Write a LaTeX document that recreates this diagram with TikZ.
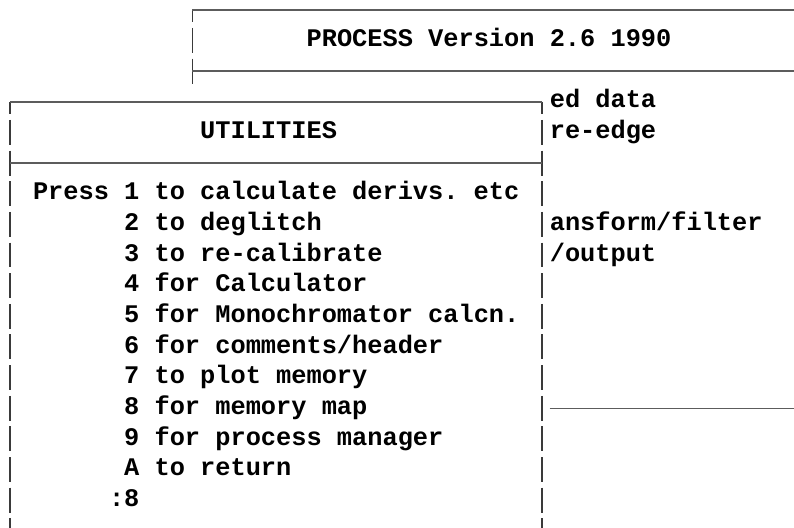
\documentclass[tikz,border=0pt]{standalone}
\usepackage[T1,TU]{fontenc}
\usepackage{fontspec}
\newfontfamily\libmono{Liberation Mono}
\newif\ifhavecourier
\IfFileExists{t1pcr.fd}{\IfFileExists{pcrb8t.tfm}{\havecouriertrue}{}}{}
\ifhavecourier
  \newcommand\scrfont{\fontencoding{T1}\fontfamily{pcr}\fontseries{b}\selectfont}
\else
  \newcommand\scrfont{\libmono\bfseries}
\fi
\definecolor{hcol}{RGB}{92,92,92}
\definecolor{vcol}{RGB}{58,58,58}
\tikzset{
  hln/.style={draw=hcol, line width=1.8pt},
  vln/.style={draw=vcol, line width=1.5pt},
  scr/.style={anchor=base west, inner sep=0pt, text=black,
    font=\fontsize{25.33pt}{30pt}\selectfont\scrfont\frenchspacing},
}
\newcommand\segfull[2]{\draw[vln] (#1+0.5,#2-0.414) -- (#1+0.5,#2+0.401);}
\newcommand\segtop[2]{\draw[vln] (#1+0.5,#2) -- (#1+0.5,#2+0.401);}
\begin{document}
\begin{tikzpicture}
\useasboundingbox[fill=white] (0,0) rectangle (794pt,-527pt);
\begin{scope}[shift={(2.4pt,-10pt)}, x=15.2pt, y=-30.65pt]
  % PROCESS box (left edge, col 12)
  \segtop{12}{0}
  \segfull{12}{1}
  \segfull{12}{2}
  \draw[hln] (12.5,0) -- (52.1,0);
  \draw[hln] (12.5,2) -- (52.1,2);
  % UTILITIES box
  \segtop{0}{3}
  \segtop{35}{3}
  \foreach \r in {4,...,17} {\segfull{0}{\r}\segfull{35}{\r}}
  \draw[hln] (0.5,3) -- (35.5,3);
  \draw[hln] (0.5,5) -- (35.5,5);
  % line at the right
  \draw[hln] (36,13) -- (52.1,13);
  % texts
  \node[scr] (title) at (20,1.196) {PROCESS Version 2.6 1990};
  \node[scr] (util)  at (13,4.196) {UTILITIES};
  \node[scr] (r1) at (36,3.196) {ed data};
  \node[scr] (r2) at (36,4.196) {re-edge};
  \node[scr] (r3) at (36,7.196) {ansform/filter};
  \node[scr] (r4) at (36,8.196) {/output};
  \node[scr] (m1) at (2,6.196) {Press 1 to calculate derivs. etc};
  \node[scr] (m2) at (8,7.196) {2 to deglitch};
  \node[scr] (m3) at (8,8.196) {3 to re-calibrate};
  \node[scr] (m4) at (8,9.196) {4 for Calculator};
  \node[scr] (m5) at (8,10.196) {5 for Monochromator calcn.};
  \node[scr] (m6) at (8,11.196) {6 for comments/header};
  \node[scr] (m7) at (8,12.196) {7 to plot memory};
  \node[scr] (m8) at (8,13.196) {8 for memory map};
  \node[scr] (m9) at (8,14.196) {9 for process manager};
  \node[scr] (mA) at (8,15.196) {A to return};
  \node[scr] (pr) at (7,16.196) {:8};
\end{scope}
\end{tikzpicture}
\end{document}
